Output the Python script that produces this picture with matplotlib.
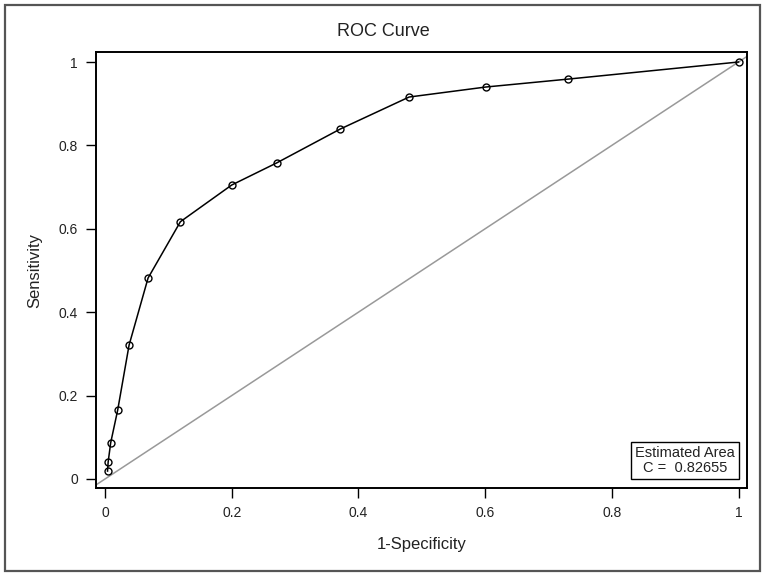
import numpy as np
import matplotlib.pyplot as plt
from matplotlib.patches import Rectangle

# ROC points
one_minus_spec = [0.004, 0.005, 0.009, 0.020, 0.038, 0.068, 0.119, 0.200,
                  0.271, 0.371, 0.480, 0.601, 0.731, 1.000]
sensitivity = [0.019, 0.041, 0.087, 0.165, 0.321, 0.482, 0.617, 0.705,
               0.758, 0.839, 0.916, 0.940, 0.959, 1.000]
tick_vals = [0, 0.2, 0.4, 0.6, 0.8, 1]
tick_labels = ["0", "0.2", "0.4", "0.6", "0.8", "1"]
area_c = 0.82655

plt.rcParams['font.family'] = ['Liberation Sans', 'DejaVu Sans']
txt_col = '#222222'

fig = plt.figure(figsize=(7.66, 5.77), dpi=100)
W, H = 766, 577
ax = fig.add_axes([96 / W, 1 - 488 / H, (747 - 96) / W, (488 - 52) / H])

# outer frame around the whole graph
fig.patches.append(Rectangle((5 / W, 1 - 571 / H), 755 / W, 566 / H,
                             transform=fig.transFigure, fill=False,
                             edgecolor='#555555', linewidth=1.6))

# chance line
ax.axline((0, 0), (1, 1), color='#999999', linewidth=1.1, zorder=2)

# ROC curve
ax.plot(one_minus_spec, sensitivity, color='black', linewidth=1.1,
        marker='o', markersize=5, markerfacecolor='none',
        markeredgecolor='black', markeredgewidth=1.0, zorder=3)

ax.set_xlim(-0.0142, 1.0134)
ax.set_ylim(-0.0216, 1.024)
ax.set_xticks(tick_vals)
ax.set_xticklabels(tick_labels)
ax.set_yticks(tick_vals)
ax.set_yticklabels(tick_labels)
ax.tick_params(direction='out', length=7, width=1.0, labelsize=10,
               colors='black', labelcolor=txt_col, pad=6)
for s in ax.spines.values():
    s.set_linewidth(1.4)

ax.set_xlabel("1-Specificity", fontsize=12, labelpad=12, color=txt_col)
ax.set_ylabel("Sensitivity", fontsize=12, labelpad=12, color=txt_col)
fig.text(0.5, 1 - 32 / H, "ROC Curve", ha='center', va='center',
         fontsize=13, color=txt_col)

ax.text(0.9155, 0.0105, "Estimated Area\nC =  %.5f" % area_c, ha='center',
        va='bottom', fontsize=10.5, linespacing=1.05, color=txt_col,
        bbox=dict(boxstyle='square,pad=0.3', facecolor='white',
                  edgecolor='black', linewidth=1.0))

fig.savefig("out.png", dpi=100)
